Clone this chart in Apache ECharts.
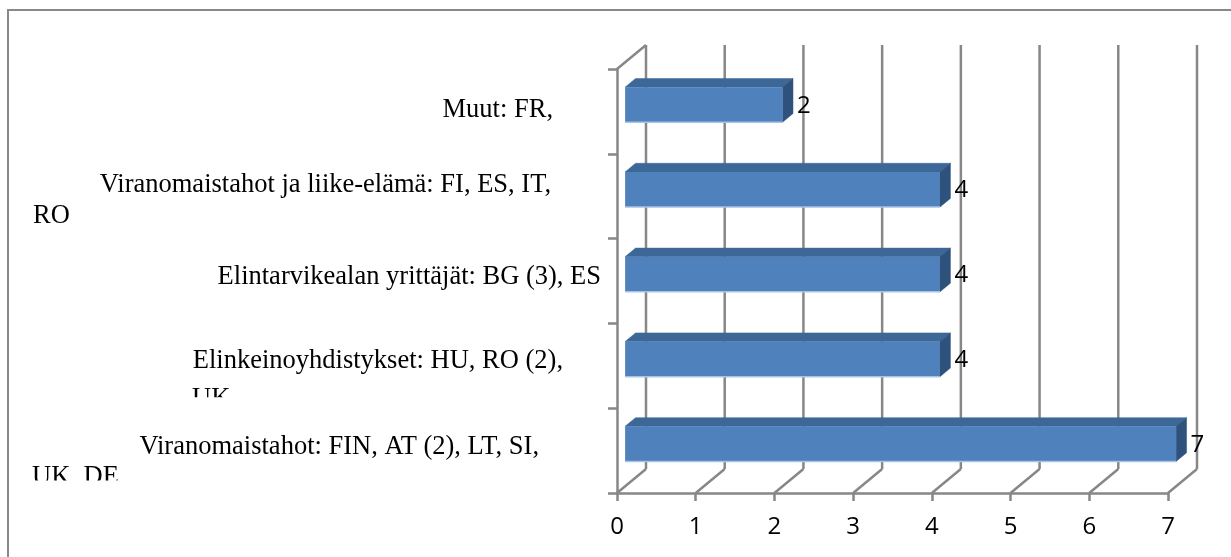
<!DOCTYPE html>
<html>
<head>
<meta charset="utf-8">
<script src="https://cdn.jsdelivr.net/npm/echarts@6/dist/echarts.min.js"></script>
<style>
  html, body { margin: 0; padding: 0; background: #ffffff; }
  #chart { width: 1231px; height: 557px; }
</style>
</head>
<body>
<div id="chart"></div>
<script>
// Categories from bottom to top, as the y axis lists them
const categories = [
  'Viranomaistahot: FIN, AT (2), LT, SI, UK, DE',
  'Elinkeinoyhdistykset: HU, RO (2), UK',
  'Elintarvikealan yrittäjät: BG (3), ES',
  'Viranomaistahot ja liike-elämä: FI, ES, IT, RO',
  'Muut: FR,'
];
// Wrapped lines of each category label
const categoryLines = [
  ['Viranomaistahot: FIN, AT (2), LT, SI,', 'UK, DE'],
  ['Elinkeinoyhdistykset: HU, RO (2),', 'UK'],
  ['Elintarvikealan yrittäjät: BG (3), ES'],
  ['Viranomaistahot ja liike-elämä: FI, ES, IT,', 'RO'],
  ['Muut: FR,']
];
const values = [7, 4, 4, 4, 2];
const xTicks = [0, 1, 2, 3, 4, 5, 6, 7];

// 3D look: offset from the front plane to the back wall, in pixels
const DEPTH = [29, -24];
const BAR_FRONT = 0.28;   // depth fraction of the bar's front face
const BAR_BACK = 0.64;    // depth fraction of the bar's back face
const BAR_THICK = 0.414;  // bar height as a share of the category band

// Where each wrapped label sits: right edge of line 1 measured from the axis,
// vertical offsets from the band centre, and where the label box cuts off
const labelLayout = [
  { gap: 78, dy: -4, next: { left: 32, dy: 26.5 }, cut: 30 },
  { gap: 54, dy: -5, next: { left: 192, dy: 33 }, cut: 31.5 },
  { gap: 16, dy: -4.3 },
  { gap: 66, dy: -11, next: { left: 33, dy: 20 } },
  { gap: 64, dy: -1 }
];

const GRID_COLOR = '#878787';
const SERIF = '"Liberation Serif", "Times New Roman", serif';
const SANS = '"Open Sans", "Noto Sans", sans-serif';

function wallLine(x1, y1, x2, y2) {
  return {
    type: 'line',
    shape: { x1, y1, x2, y2 },
    style: { stroke: GRID_COLOR, lineWidth: 2.5 }
  };
}

function renderWalls(params, api) {
  const cs = params.coordSys;
  const x = api.coord([api.value(0), 0])[0];
  const yB = cs.y + cs.height;
  const yT = cs.y;
  const [dx, dy] = DEPTH;
  const children = [
    wallLine(x, yB, x + dx, yB + dy),
    wallLine(x + dx, yB + dy, x + dx, yT + dy)
  ];
  if (params.dataIndex === 0) {
    children.push(wallLine(x, yT, x + dx, yT + dy));
  }
  return { type: 'group', children };
}

function renderBar(params, api) {
  const v = api.value(0);
  const idx = api.value(1);
  const p0 = api.coord([0, idx]);
  const pv = api.coord([v, idx]);
  const band = api.size([0, 1])[1];
  const h = band * BAR_THICK;
  const fx = DEPTH[0] * BAR_FRONT, fy = DEPTH[1] * BAR_FRONT;
  const ddx = DEPTH[0] * (BAR_BACK - BAR_FRONT), ddy = DEPTH[1] * (BAR_BACK - BAR_FRONT);
  const L = p0[0] + fx, R = pv[0] + fx;
  const T = p0[1] + fy - h / 2, B = p0[1] + fy + h / 2;
  return {
    type: 'group',
    children: [
      {
        type: 'polygon',
        shape: { points: [[L, T], [R, T], [R + ddx, T + ddy], [L + ddx, T + ddy]] },
        style: { fill: '#3d6797', stroke: '#3d6797', lineWidth: 0.5 }
      },
      {
        type: 'polygon',
        shape: { points: [[R, T], [R + ddx, T + ddy], [R + ddx, B + ddy], [R, B]] },
        style: { fill: '#2f527d', stroke: '#2f527d', lineWidth: 0.5 }
      },
      {
        type: 'rect',
        shape: { x: L, y: T, width: R - L, height: h },
        style: { fill: '#4f81bd' }
      },
      {
        type: 'line',
        shape: { x1: L, y1: B, x2: R, y2: B },
        style: { stroke: '#a9c3e4', lineWidth: 1.5 }
      },
      {
        type: 'text',
        style: {
          text: String(v),
          x: R + ddx + 4,
          y: p0[1] + fy + 1,
          align: 'left',
          verticalAlign: 'middle',
          font: '24px ' + SANS,
          fill: '#000000'
        }
      }
    ]
  };
}

function renderLabel(params, api) {
  const i = params.dataIndex;
  const idx = api.value(1);
  const p = api.coord([0, idx]);
  const lay = labelLayout[i];
  const lines = categoryLines[i];
  const children = [{
    type: 'text',
    style: {
      text: lines[0], x: p[0] - lay.gap, y: p[1] + lay.dy,
      align: 'right', verticalAlign: 'middle',
      font: '26.5px ' + SERIF, fill: '#000000'
    }
  }];
  if (lines[1] && lay.next) {
    children.push({
      type: 'text',
      style: {
        text: lines[1], x: lay.next.left, y: p[1] + lay.next.dy,
        align: 'left', verticalAlign: 'middle',
        font: '26.5px ' + SERIF, fill: '#000000'
      }
    });
  }
  const group = { type: 'group', children };
  if (lay.cut != null) {
    group.clipPath = {
      type: 'rect',
      shape: { x: 0, y: p[1] - 200, width: p[0], height: 200 + lay.cut }
    };
  }
  return group;
}

const chart = echarts.init(document.getElementById('chart'), null, { renderer: 'canvas' });

chart.setOption({
  animation: false,
  backgroundColor: '#ffffff',
  graphic: [{
    type: 'rect',
    z: 100,
    shape: { x: 8, y: 10, width: 1400, height: 700 },
    style: { fill: 'none', stroke: '#898989', lineWidth: 2 }
  }],
  grid: { left: 617, right: 63, top: 69, bottom: 64, containLabel: false },
  xAxis: {
    type: 'value',
    min: 0,
    max: 7,
    interval: 1,
    splitLine: { show: false },
    axisLine: { show: true, lineStyle: { color: GRID_COLOR, width: 2.5 } },
    axisTick: { show: true, length: 8, lineStyle: { color: GRID_COLOR, width: 2.5 } },
    axisLabel: {
      margin: 22,
      fontFamily: SANS,
      fontSize: 24,
      color: '#000000',
      formatter: (val) => String(xTicks[xTicks.indexOf(val)])
    }
  },
  yAxis: {
    type: 'category',
    data: categories,
    boundaryGap: true,
    axisLine: { show: true, lineStyle: { color: GRID_COLOR, width: 2.5 } },
    axisTick: { show: true, length: 9, lineStyle: { color: GRID_COLOR, width: 2.5 } },
    axisLabel: { show: false },
    splitLine: { show: false }
  },
  series: [
    {
      type: 'custom',
      name: 'walls',
      coordinateSystem: 'cartesian2d',
      clip: false,
      z: 1,
      silent: true,
      encode: { x: 0, y: 1 },
      data: xTicks.map((t) => [t, 0]),
      renderItem: renderWalls
    },
    {
      type: 'custom',
      name: 'bars',
      coordinateSystem: 'cartesian2d',
      clip: false,
      z: 3,
      encode: { x: 0, y: 1 },
      data: values.map((v, i) => [v, i]),
      renderItem: renderBar
    },
    {
      type: 'custom',
      name: 'labels',
      coordinateSystem: 'cartesian2d',
      clip: false,
      z: 4,
      silent: true,
      encode: { x: 0, y: 1 },
      data: categories.map((c, i) => [0, i]),
      renderItem: renderLabel
    }
  ]
});
</script>
</body>
</html>
